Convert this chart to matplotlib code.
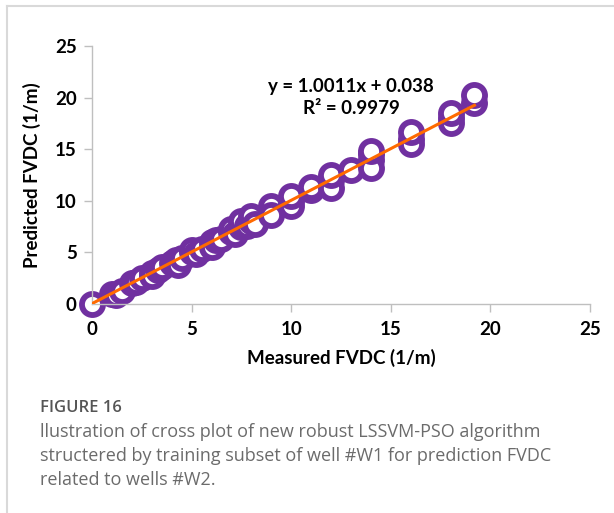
import matplotlib
matplotlib.use("Agg")
import matplotlib.pyplot as plt
from matplotlib.lines import Line2D
import numpy as np

# measured vs predicted FVDC (1/m)
measured = [0, 1, 1.2, 1.5, 2, 2.2, 2.5, 3, 3, 3.3, 3.5, 4, 4.2, 4.3, 4.5,
            5, 5, 5.2, 5.5, 6, 6, 6.2, 6.5, 7, 7, 7.2, 7.5, 7.5, 7.8, 8, 8,
            8.2, 9, 9, 9, 10, 10, 10, 11, 11, 12, 12, 12, 13, 14, 14, 14, 14,
            16, 16, 16, 18, 18, 18, 19.2, 19.2]
predicted = [0, 1, 0.9, 1.3, 2, 2.1, 2.5, 3, 2.7, 3.3, 3.6, 4, 4.3, 3.8, 4.5,
             5, 5.2, 4.8, 5.3, 6, 5.5, 6.2, 6.3, 7, 7.3, 6.8, 7.5, 8, 7.6, 8,
             8.5, 7.8, 9, 9.5, 8.6, 10, 9.5, 10.5, 11, 11.3, 12, 11.2, 12.5,
             13, 14, 14.5, 13.2, 14.8, 16, 15.5, 16.7, 18, 17.5, 18.5, 19.5,
             20.3]

slope = 1.0011
intercept = 0.038
r_squared = 0.9979
ticks = [0, 5, 10, 15, 20, 25]

caption_title = "FIGURE 16"
caption_lines = [
    "llustration of cross plot of new robust LSSVM-PSO algorithm",
    "structered by training subset of well #W1 for prediction FVDC",
    "related to wells #W2.",
]

fig = plt.figure(figsize=(6.14, 5.13), dpi=100)

# light frame around the figure panel (top and left edges visible)
fig.add_artist(Line2D([7 / 614, 1.0], [1 - 6 / 513, 1 - 6 / 513],
                      color="#d9d9d9", lw=1.5, transform=fig.transFigure))
fig.add_artist(Line2D([7 / 614, 7 / 614], [0, 1 - 6 / 513],
                      color="#d9d9d9", lw=1.5, transform=fig.transFigure))

ax = fig.add_axes([92 / 614, 1 - 304 / 513, 498 / 614, 258 / 513])

ax.scatter(measured, predicted, s=230, facecolors="white",
           edgecolors="#7030a0", linewidths=4.2, zorder=2, clip_on=False)

xs = np.array([0, max(measured)])
ax.plot(xs, slope * xs + intercept, color="#ff6a00", lw=2.2, zorder=3)

ax.set_xlim(0, 25)
ax.set_ylim(0, 25)
ax.set_xticks(ticks)
ax.set_yticks(ticks)
for side in ("top", "right"):
    ax.spines[side].set_visible(False)
for side in ("left", "bottom"):
    ax.spines[side].set_color("#bfbfbf")
    ax.spines[side].set_linewidth(1.0)
ax.tick_params(colors="#bfbfbf", length=6, width=1.0, labelcolor="black")
ax.tick_params(axis="x", pad=6)
ax.tick_params(axis="y", pad=5)
for lab in ax.get_xticklabels() + ax.get_yticklabels():
    lab.set_fontfamily("Lato")
    lab.set_fontweight("bold")
    lab.set_fontsize(13.5)

ax.set_xlabel("Measured FVDC (1/m)", fontfamily="Lato", fontweight="bold",
              fontsize=13.5, labelpad=8)
ax.set_ylabel("Predicted FVDC (1/m)", fontfamily="Lato", fontweight="bold",
              fontsize=13.5, labelpad=10)

eq = f"y = {slope:.4f}x + {intercept:.3f}\nR² = {r_squared:.4f}"
ax.text(13.0, 20.0, eq, ha="center", va="center", fontfamily="Lato",
        fontweight="bold", fontsize=13.5, linespacing=1.35)

fig.text(40 / 614, 1 - 408 / 513, caption_title, color="#555555",
         fontfamily="Open Sans", fontweight="semibold", fontsize=12,
         va="center")
for i, line in enumerate(caption_lines):
    fig.text(40 / 614, 1 - (432 + 24 * i) / 513, line, color="#6b6b6b",
             fontfamily="Open Sans", fontsize=13, va="center")

fig.savefig("out.png", dpi=100, facecolor="white")
